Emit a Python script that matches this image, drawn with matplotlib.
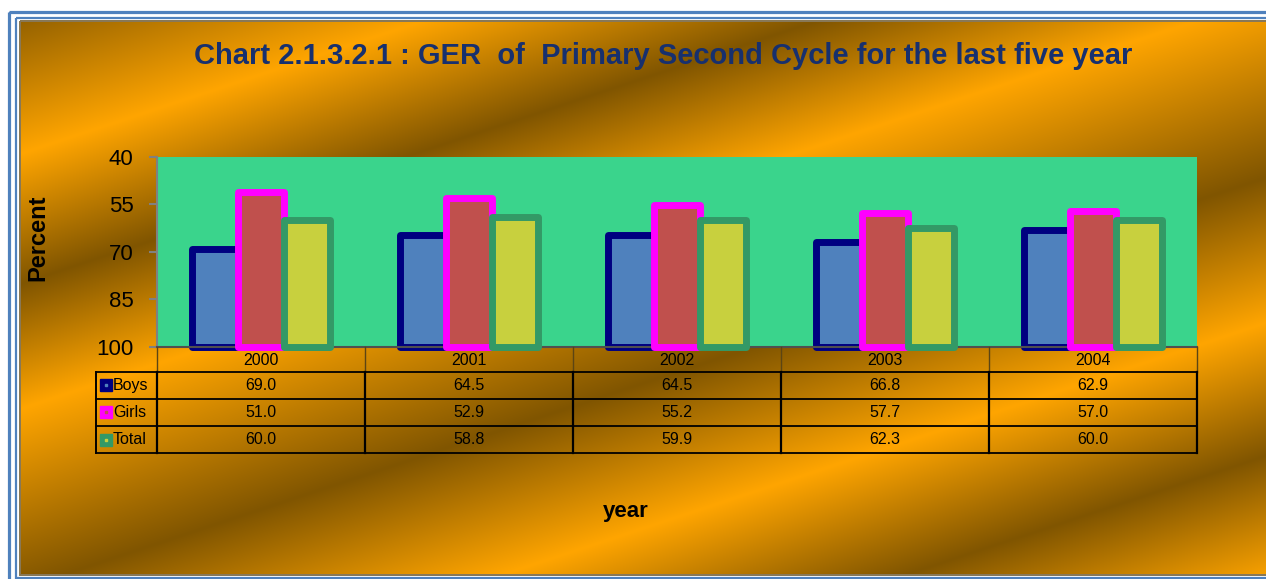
import matplotlib.pyplot as plt
import numpy as np
from matplotlib.patches import Rectangle
from matplotlib.transforms import blended_transform_factory

# data
years = ['2000', '2001', '2002', '2003', '2004']
boys = [69.0, 64.5, 64.5, 66.8, 62.9]
girls = [51.0, 52.9, 55.2, 57.7, 57.0]
total = [60.0, 58.8, 59.9, 62.3, 60.0]
series_names = ['Boys', 'Girls', 'Total']
y_ticks = [40, 55, 70, 85, 100]

title = 'Chart 2.1.3.2.1 : GER  of  Primary Second Cycle for the last five year'

plt.rcParams['font.family'] = 'Liberation Sans'

W, H = 1266, 579
fig = plt.figure(figsize=(W / 100, H / 100), dpi=100)
fig.patch.set_facecolor('white')


def frac(x0, y0, x1, y1):
    # pixel box (origin top-left) -> figure fraction rect
    return [x0 / W, 1 - y1 / H, (x1 - x0) / W, (y1 - y0) / H]


# gold gradient background
bg = fig.add_axes(frac(21, 22, W, 574), zorder=0)
xx, yy = np.meshgrid(np.arange(21, W), np.arange(22, 574))
u = yy + 0.33 * xx
t = np.interp(u, [0, 160, 290, 415, 595, 740, 873, 1000], [1, 0, 1, 0, 1, 0, 1, 0])
light = np.array([255, 165, 0]) / 255
dark = np.array([128, 85, 0]) / 255
img = light * (1 - t[..., None]) + dark * t[..., None]
bg.imshow(img, extent=(21, W, 574, 22), aspect='auto', interpolation='bilinear')
bg.axis('off')

# main plot
ax = fig.add_axes(frac(157, 157, 1197, 347), zorder=1)
ax.set_facecolor('#3AD48C')
x = np.arange(len(years))
w = 0.22
styles = [('#4F81BD', '#000080'), ('#C0504D', '#FF00FF'), ('#C8D03E', '#339966')]
for k, (vals, (fc, ec)) in enumerate(zip([boys, girls, total], styles)):
    ax.bar(x + (k - 1) * w, np.array(vals) - 100, bottom=100, width=w,
           color=fc, edgecolor=ec, linewidth=5, joinstyle='round',
           clip_on=False, zorder=2 + k)
ax.set_xlim(-0.5, 4.5)
ax.set_ylim(100, 40)
ax.set_yticks(y_ticks)
ax.set_xticks([])
for s in ['top', 'right']:
    ax.spines[s].set_visible(False)
ax.spines['left'].set_color('#808080')
ax.spines['left'].set_linewidth(1.5)
ax.spines['bottom'].set_color('#505050')
ax.spines['bottom'].set_linewidth(1.5)
ax.tick_params(axis='y', length=6, width=1.5, color='#808080', pad=11, labelsize=16)

# overlay in pixel coords for frame, texts and data table
ov = fig.add_axes([0, 0, 1, 1], zorder=3)
ov.set_xlim(0, W)
ov.set_ylim(H, 0)
ov.axis('off')

ov.add_patch(Rectangle((9, 11.5), W + 20, H + 20, fill=False, ec='#4F81BD', lw=2.3))
ov.add_patch(Rectangle((15.8, 18.2), W + 20, 578 - 18.2, fill=False, ec='#4F81BD', lw=1.6))
ov.add_patch(Rectangle((20.3, 21.3), W + 20, 574.5 - 21.3, fill=False, ec='#857553', lw=1.4))

ov.text(663, 56, title, ha='center', va='center', fontsize=21,
        fontweight='bold', color='#17306E')
ov.text(38, 238, 'Percent', rotation=90, ha='center', va='center',
        fontsize=17, fontweight='bold')
ov.text(626, 511, 'year', ha='center', va='center', fontsize=16, fontweight='bold')

# data table
tr = blended_transform_factory(ax.transData, ov.transData)
top = 347
rows = [371.5, 398.7, 425.9, 453.1]
left_px, right_px = 96, 1197
for xb in np.arange(-0.5, len(years), 1.0):
    ov.plot([xb, xb], [top, rows[0]], transform=tr, color='#5C4514', lw=1)
    ov.plot([xb, xb], [rows[0], rows[-1]], transform=tr, color='black', lw=1.6)
ov.plot([left_px, left_px], [rows[0], rows[-1]], color='black', lw=1.4)
for ry in rows:
    ov.plot([left_px, right_px], [ry, ry], color='black', lw=1.3)

for i, yr in enumerate(years):
    ov.text(i, (top + rows[0]) / 2 + 1, yr, transform=tr, ha='center',
            va='center', fontsize=11.5)

for r, (name, vals, (fc, ec)) in enumerate(zip(series_names, [boys, girls, total], styles)):
    cy = (rows[r] + rows[r + 1]) / 2
    ov.plot(106, cy, marker='s', ms=9, mfc=ec, mec=ec)
    ov.plot(106, cy, marker='s', ms=1.5, mfc=fc, mec=fc)
    ov.text(113, cy, name, ha='left', va='center', fontsize=11.5)
    for i, v in enumerate(vals):
        ov.text(i, cy, f'{v:.1f}', transform=tr, ha='center', va='center', fontsize=11.5)

fig.savefig('out.png', dpi=100)
